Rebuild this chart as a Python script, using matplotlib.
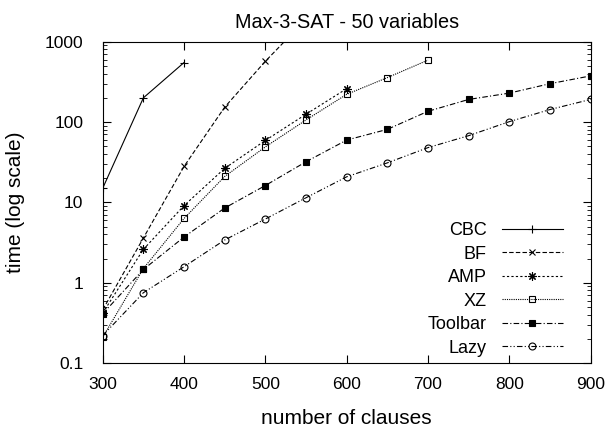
import numpy as np
import matplotlib
matplotlib.use("Agg")
import matplotlib.pyplot as plt

plt.rcParams['font.family'] = ['Liberation Sans', 'DejaVu Sans']

# number of clauses
x_all = [300, 350, 400, 450, 500, 550, 600, 650, 700, 750, 800, 850, 900]

cbc = [15, 200, 550]
bf = [0.46, 3.6, 28, 153, 570, 1900]
amp = [0.42, 2.6, 9.1, 26.5, 59, 125, 260]
xz = [0.21, 1.5, 6.3, 21, 49, 106, 221, 357, 589]
toolbar = [0.41, 1.46, 3.7, 8.5, 16.2, 32, 59.6, 81, 136, 191, 229, 300, 375]
lazy = [0.22, 0.75, 1.58, 3.4, 6.2, 11.4, 20.8, 31, 48, 67.6, 101, 143, 191]

series = [
    ("CBC", cbc, dict(ls='-', marker='+', ms=6)),
    ("BF", bf, dict(ls=(0, (4, 2)), marker='x', ms=5)),
    ("AMP", amp, dict(ls=(0, (2, 2)), marker=(8, 2, 0), ms=6)),
    ("XZ", xz, dict(ls=(0, (1, 1)), marker='s', ms=5, mfc='none')),
    ("Toolbar", toolbar, dict(ls=(0, (5, 2, 1, 2)), marker='s', ms=5)),
    ("Lazy", lazy, dict(ls=(0, (5, 2, 1, 2, 1, 2)), marker='o', ms=5, mfc='none')),
]


def main():
    fig = plt.figure(figsize=(6.14, 4.29), dpi=100)
    ax = fig.add_axes([0.1673, 0.1538, 0.7945, 0.749])

    for name, vals, st in series:
        ax.plot(x_all[:len(vals)], vals, color='black', lw=0.8,
                mec='black', mew=0.8, label=name, **st)

    ax.set_yscale('log')
    ax.set_xlim(300, 900)
    ax.set_ylim(0.1, 1000)
    ax.set_xticks([300, 400, 500, 600, 700, 800, 900])
    ax.set_yticks([0.1, 1, 10, 100, 1000])
    ax.set_yticklabels(['0.1', '1', '10', '100', '1000'])
    ax.tick_params(which='both', direction='in', top=True, right=True,
                   labelsize=12.5)
    ax.tick_params(which='major', length=6)
    ax.tick_params(which='minor', length=3)
    ax.tick_params(axis='x', which='major', pad=10)
    ax.tick_params(axis='y', which='major', pad=14)
    ax.tick_params(axis='x', which='minor', bottom=False, top=False)

    ax.set_title('Max-3-SAT - 50 variables', fontsize=14.3, pad=10)
    ax.set_xlabel('number of clauses', fontsize=15)
    ax.set_ylabel('time (log scale)', fontsize=15)
    ax.xaxis.set_label_coords(0.5, -0.143)
    ax.yaxis.set_label_coords(-0.16, 0.5)

    ax.legend(loc='center right', frameon=False, markerfirst=False,
              fontsize=13, handlelength=3.4, handletextpad=0.83,
              labelspacing=0.36, borderpad=0, borderaxespad=0,
              bbox_to_anchor=(0.917, 0.3256), bbox_transform=fig.transFigure)

    fig.savefig('out.png', dpi=100)


if __name__ == '__main__':
    main()
